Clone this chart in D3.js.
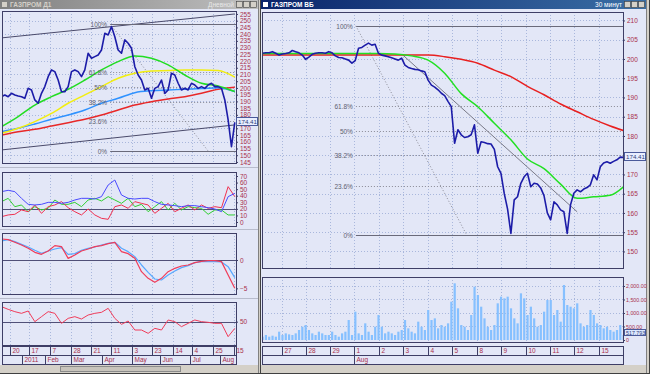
<!DOCTYPE html>
<html>
<head>
<meta charset="utf-8">
<script src="https://cdnjs.cloudflare.com/ajax/libs/d3/7.8.5/d3.min.js"></script>
<style>
  body { margin: 0; background: #d4d0c8; }
  svg { display: block; }
  text { font-family: "Liberation Sans", Arial, sans-serif; }
</style>
</head>
<body>
<div id="chart"></div>
<script>
// ---- left window: daily chart (one sample every ~2.5 sessions) ----
const leftPrice = [
  193.5, 194.8, 193.5, 196.0, 194.8, 194.0, 193.5, 192.3, 199.7, 198.5,
  191.1, 188.6, 196.0, 201.0, 208.4, 213.4, 212.1, 205.9, 197.2, 197.2,
  201.0, 212.1, 213.4, 212.1, 208.4, 213.4, 225.8, 222.1, 223.3, 224.5,
  228.2, 240.6, 239.4, 245.6, 238.1, 228.2, 225.8, 235.7, 233.2, 229.5,
  215.8, 209.6, 205.9, 198.5, 199.7, 192.3, 199.7, 201.0, 205.9, 196.0,
  198.5, 210.9, 209.6, 203.5, 198.5, 199.7, 198.5, 203.5, 202.2, 199.7,
  201.0, 199.7, 202.2, 203.5, 201.0, 201.0, 199.7, 191.1, 176.2, 156.3,
  174.4
]
// moving averages, sampled every 5 samples
const leftMaIdx = [0, 5, 10, 15, 20, 25, 30, 35, 40, 45, 50, 55, 60, 65, 70]
const leftGreenMa = [171.2, 178.7, 187.3, 193.5, 199.0, 205.9, 213.4, 219.6, 223.8, 222.0, 217.1, 209.6, 203.5, 201.5, 197.3]
const leftYellowMa = [166.3, 170.0, 175.0, 181.1, 188.6, 194.8, 201.0, 207.2, 210.9, 212.6, 212.9, 213.4, 213.4, 212.9, 208.0]
const leftBlueMa = [167.5, 170.0, 173.2, 176.7, 179.9, 183.6, 188.6, 192.3, 196.5, 198.0, 198.5, 199.0, 199.5, 200.2, 197.3]
const leftRedMa = [165.0, 167.5, 169.3, 171.7, 174.2, 176.7, 179.9, 183.6, 187.3, 189.8, 191.8, 193.5, 196.0, 199.0, 200.5]

// indicators, sampled every 2 samples
const dmiBlue = [46.2, 48.2, 46.2, 36.0, 26.9, 25.9, 26.9, 29.9, 29.9, 28.4, 29.9, 33.5, 36.0, 36.0, 35.0, 38.6, 56.3, 63.9, 41.1, 36.0, 35.0, 36.0, 36.0, 31.0, 26.9, 25.9, 24.9, 23.3, 24.9, 24.9, 23.3, 21.8, 19.8, 15.7, 38.6, 43.6]
const dmiGreen = [31.0, 36.0, 23.3, 25.9, 15.7, 23.3, 18.3, 20.8, 33.5, 26.9, 26.9, 29.9, 23.3, 33.5, 36.0, 32.0, 38.6, 33.5, 28.4, 36.0, 23.3, 26.9, 15.7, 23.3, 31.0, 18.3, 28.4, 18.3, 23.3, 21.8, 20.8, 11.7, 18.3, 18.3, 10.7, 10.7]
const dmiRed = [8.1, 10.7, 11.7, 18.3, 15.7, 25.9, 13.2, 23.3, 25.9, 31.0, 21.8, 15.7, 10.7, 19.8, 10.7, 5.6, 4.1, 23.3, 25.9, 20.8, 31.0, 28.4, 25.9, 13.2, 20.8, 28.4, 15.7, 20.8, 25.9, 18.3, 25.9, 20.8, 23.3, 21.8, 53.8, 38.6]
const macdRed = [3.71, 3.59, 3.12, 2.65, 2.06, 1.35, 1.0, 1.59, 2.53, 2.35, 0.29, 0.88, 1.59, 1.94, 2.35, 2.53, 2.88, 3.12, 1.47, 1.12, 0.29, -2.06, -3.24, -3.94, -3.24, -2.06, -1.47, -1.06, -0.88, -0.47, -0.24, -0.12, -0.12, -0.29, -2.65, -5.0]
const macdBlue = [3.35, 3.59, 3.24, 2.76, 2.29, 1.71, 1.18, 1.59, 1.94, 2.18, 1.0, 1.12, 1.71, 2.06, 2.29, 2.65, 2.94, 3.12, 2.06, 1.47, 0.59, -0.88, -2.18, -3.35, -3.53, -2.65, -1.94, -1.35, -1.0, -0.47, -0.29, -0.29, -0.29, -0.35, -1.18, -3.12]
const rsiRed = [72.5, 68.5, 65, 62.5, 66, 50, 57.5, 65, 62.5, 47.5, 55, 57.5, 54, 60, 62.5, 64, 70, 55, 46, 51, 37.5, 37.5, 32.5, 40, 37.5, 52.5, 50, 42.5, 47.5, 52.5, 50, 49, 47.5, 47.5, 27.5, 40]

const leftDays = ["20", "17", "7", "28", "21", "11", "3", "23", "14", "4", "25", "15"]
const leftDayIdx = [2.55, 8.25, 14.55, 20.85, 26.85, 32.85, 39.15, 45.15, 51.45, 57.15, 63.45, 69.75]
const leftMonths = ["2011", "Feb", "Mar", "Apr", "May", "Jun", "Jul", "Aug"]
const leftMonthIdx = [6.15, 13.05, 20.85, 30.15, 39.15, 47.55, 56.55, 65.55]
const leftFib = { hi: 247.6, lo: 153.1, from: 32.6, diagTo: 62.0 }
const leftChannel = [[0, 237.2, 70, 255.0], [0, 153.9, 70, 172.5]]

// ---- right window: 30-minute chart (one sample every ~2.5 bars) ----
const rightPrice = [
  201.5, 201.6, 201.6, 201.9, 201.5, 201.0, 201.3, 201.4, 201.6, 202.2,
  201.9, 201.6, 201.0, 199.9, 200.5, 201.2, 201.5, 201.6, 201.6, 201.5,
  201.9, 201.6, 200.8, 200.4, 200.3, 200.0, 199.7, 198.9, 199.6, 202.8,
  203.0, 203.6, 204.1, 203.6, 203.8, 201.5, 201.0, 200.8, 200.6, 200.3,
  200.0, 199.7, 200.2, 198.4, 197.8, 197.5, 197.3, 197.2, 196.9, 196.7,
  194.5, 193.2, 192.7, 192.0, 191.1, 190.5, 189.0, 187.6, 178.1, 181.6,
  180.3, 179.6, 179.8, 180.3, 182.9, 175.5, 178.5, 178.3, 178.0, 177.9,
  176.5, 172.0, 170.3, 165.0, 161.0, 154.7, 163.4, 164.2, 167.7, 169.4,
  170.3, 166.8, 167.7, 167.5, 166.5, 164.5, 160.0, 158.2, 162.9, 162.1,
  160.8, 160.3, 154.7, 162.1, 165.1, 166.0, 165.5, 166.2, 166.6, 167.3,
  169.9, 168.6, 172.0, 173.0, 173.3, 172.9, 173.4, 173.8, 174.5, 174.41
]
const rightVolume = [
  123, 185, 123, 160, 123, 308, 185, 246, 209, 185,
  246, 370, 493, 555, 370, 246, 185, 308, 246, 185,
  185, 308, 185, 123, 246, 308, 740, 185, 1049, 246,
  185, 617, 308, 185, 493, 926, 493, 246, 308, 246,
  185, 308, 370, 740, 432, 308, 246, 679, 493, 370,
  1111, 740, 802, 432, 555, 493, 617, 1420, 2099, 1173,
  555, 493, 370, 926, 1975, 1667, 1234, 802, 493, 370,
  555, 1358, 1605, 1543, 1605, 1173, 802, 617, 1728, 1543,
  926, 1234, 802, 493, 555, 1049, 1481, 1481, 926, 1111,
  679, 2037, 1296, 1234, 1173, 1358, 617, 493, 555, 1111,
  926, 617, 555, 432, 493, 370, 308, 370, 555, 185
]
const rightMaIdx = [0, 5, 10, 15, 20, 25, 30, 35, 40, 45, 50, 55, 60, 65, 70, 75, 80, 85, 90, 95, 100, 105, 109]
const rightGreenMa = [201.4, 201.4, 201.4, 201.4, 201.4, 201.4, 201.4, 201.4, 201.3, 200.8, 199.7, 196.3, 191.0, 187.6, 183.3, 179.0, 174.0, 171.5, 167.5, 163.8, 164.2, 164.6, 166.8]
const rightRedMa = [201.0, 201.0, 201.0, 201.0, 201.0, 201.0, 201.0, 201.0, 201.0, 201.0, 201.0, 200.6, 199.9, 198.9, 197.1, 195.4, 192.9, 190.7, 188.3, 186.3, 184.3, 182.6, 181.4]
const rightDays = ["27", "28", "29", "1", "2", "3", "4", "5", "8", "9", "10", "11", "12", "15"]
const rightDayIdx = [5.9, 13.1, 20.4, 27.6, 35.2, 42.4, 50.0, 57.2, 64.7, 72.0, 79.5, 86.7, 94.0, 101.6]
const rightMonths = ["Aug"]
const rightMonthIdx = [27.6]
const rightFib = { hi: 208.6, lo: 154.2, from: 28.2, diagTo: 61.7 }
const rightTrend = [42.4, 201.0, 95.0, 160.3]

const fibLevels = [0, 0.236, 0.382, 0.5, 0.618, 1]
const fibLabels = ["0%", "23.6%", "38.2%", "50%", "61.8%", "100%"]
const lastPrice = 174.41
const lastVolume = 517.793

// ---- styles ----
const bg = "#e3e7f7"
const frame = "#3e3e66"
const labelColor = "#a8304c"
const gridColor = "#a9b7dc"
const priceColor = "#1c1ca8"

const svg = d3.select("#chart").append("svg").attr("width", 650).attr("height", 374)
const defs = svg.append("defs")

function gradient(id, c0, c1) {
  const g = defs.append("linearGradient").attr("id", id)
  g.append("stop").attr("offset", "0%").attr("stop-color", c0)
  g.append("stop").attr("offset", "100%").attr("stop-color", c1)
}
gradient("tInactive", "#808080", "#c0c0c0")
gradient("tActive", "#0a246a", "#3a6ea5")

function clip(id, x0, y0, x1, y1) {
  defs.append("clipPath").attr("id", id)
    .append("rect").attr("x", x0).attr("y", y0).attr("width", x1 - x0).attr("height", y1 - y0)
  return "url(#" + id + ")"
}

function box(x0, y0, x1, y1, fill) {
  svg.append("rect")
    .attr("x", x0 + 0.5).attr("y", y0 + 0.5)
    .attr("width", x1 - x0).attr("height", y1 - y0)
    .attr("fill", fill || "none").attr("stroke", frame)
}

function hline(g, x0, x1, y, color, dash, w) {
  g.append("line")
    .attr("x1", x0).attr("x2", x1).attr("y1", y).attr("y2", y)
    .attr("stroke", color).attr("stroke-width", w || 1)
    .attr("stroke-dasharray", dash || null)
}

function vGrid(g, xs, idx, y0, y1) {
  idx.forEach(d => {
    const x = Math.round(xs(d)) + 0.5
    g.append("line").attr("x1", x).attr("x2", x).attr("y1", y0).attr("y2", y1)
      .attr("stroke", gridColor).attr("stroke-dasharray", "1,2")
  })
}

function vAxis(scale, x, values, fmt, size) {
  const ax = d3.axisRight(scale).tickValues(values).tickSize(2).tickPadding(size ? 1 : 2)
    .tickFormat(fmt || d3.format("d"))
  const g = svg.append("g").attr("transform", "translate(" + x + ",0)").call(ax)
  g.select(".domain").remove()
  g.attr("font-size", size || 6.5).attr("font-family", "Liberation Sans, Arial, sans-serif")
  g.selectAll("text").attr("fill", labelColor)
  g.selectAll("line").attr("stroke", frame)
  return g
}

function series(g, xs, ys, vals, color, w) {
  const line = d3.line().x((d, i) => xs(i)).y(d => ys(d))
  g.append("path").datum(vals)
    .attr("d", line).attr("fill", "none")
    .attr("stroke", color).attr("stroke-width", w || 1)
    .attr("stroke-linejoin", "round")
}

function curve(g, xs, ys, vals, idx, color, w) {
  const line = d3.line().curve(d3.curveMonotoneX)
    .x((d, i) => xs(idx[i])).y(d => ys(d))
  g.append("path").datum(vals)
    .attr("d", line).attr("fill", "none")
    .attr("stroke", color).attr("stroke-width", w || 1.5)
}

function dateRows(xs, x0, x1, y, days, dayIdx, months, monthIdx) {
  box(x0, y, x1, y + 9)
  box(x0, y + 9, x1, y + 18)
  dayIdx.forEach((d, i) => {
    const x = Math.round(xs(d)) + 0.5
    svg.append("line").attr("x1", x).attr("x2", x).attr("y1", y).attr("y2", y + 9).attr("stroke", frame)
    svg.append("text").attr("x", x + 2).attr("y", y + 7)
      .attr("font-size", 6.5).attr("fill", labelColor).text(days[i])
  })
  monthIdx.forEach((d, i) => {
    const x = Math.round(xs(d)) + 0.5
    svg.append("line").attr("x1", x).attr("x2", x).attr("y1", y + 9).attr("y2", y + 18).attr("stroke", frame)
    svg.append("text").attr("x", x + 2).attr("y", y + 16)
      .attr("font-size", 6.5).attr("fill", labelColor).text(months[i])
  })
}

function fib(g, xs, ys, f, xEnd) {
  fibLevels.forEach((lv, i) => {
    const v = f.lo + (f.hi - f.lo) * lv
    const y = Math.round(ys(v)) + 0.5
    const solid = lv === 0 || lv === 1
    hline(g, xs(f.from), xEnd, y, solid ? "#6a6a7a" : "#8a8a96", solid ? null : "1,2")
    svg.append("text").attr("x", xs(f.from) - 3).attr("y", y + 2)
      .attr("text-anchor", "end").attr("font-size", 6.5).attr("fill", "#606070")
      .text(fibLabels[i])
  })
  g.append("line")
    .attr("x1", xs(f.from)).attr("y1", ys(f.hi))
    .attr("x2", xs(f.diagTo)).attr("y2", ys(f.lo))
    .attr("stroke", "#8a8a96").attr("stroke-dasharray", "1,2")
}

function valueTag(x, y, txt, fill, h, size) {
  h = h || 8
  svg.append("rect").attr("x", x + 0.5).attr("y", y - h / 2 - 0.5).attr("width", 21).attr("height", h)
    .attr("fill", fill).attr("stroke", "#4a5a9a")
  svg.append("text").attr("x", x + 2).attr("y", y + 2)
    .attr("font-size", size || 6.2).attr("fill", "#30407a").text(txt)
}

// tick values that are not hidden under the last-value tag
function freeTicks(vals, scale, v) {
  return vals.filter(t => Math.abs(scale(t) - scale(v)) > 5)
}

// ---- window chrome ----
svg.append("rect").attr("width", 650).attr("height", 374).attr("fill", "#d4d0c8")
svg.append("rect").attr("x", 0).attr("y", 9).attr("width", 258).attr("height", 356).attr("fill", bg)
svg.append("rect").attr("x", 261).attr("y", 9).attr("width", 385).attr("height", 356).attr("fill", bg)
svg.append("line").attr("x1", 258.5).attr("x2", 258.5).attr("y1", 0).attr("y2", 374).attr("stroke", "#808080")
svg.append("line").attr("x1", 260.5).attr("x2", 260.5).attr("y1", 0).attr("y2", 374).attr("stroke", "#404040")
svg.append("line").attr("x1", 646.5).attr("x2", 646.5).attr("y1", 0).attr("y2", 374).attr("stroke", "#808080")
svg.append("line").attr("x1", 649.5).attr("x2", 649.5).attr("y1", 0).attr("y2", 374).attr("stroke", "#404040")
svg.append("line").attr("x1", 0).attr("x2", 650).attr("y1", 373.5).attr("y2", 373.5).attr("stroke", "#404040")

// title bars
svg.append("rect").attr("x", 0).attr("y", 0).attr("width", 258).attr("height", 9).attr("fill", "url(#tInactive)")
svg.append("rect").attr("x", 2).attr("y", 2).attr("width", 5).attr("height", 5).attr("fill", "#d4d0c8")
svg.append("text").attr("x", 10).attr("y", 7).attr("font-size", 6.5).attr("font-weight", "bold")
  .attr("fill", "#d4d0c8").text("ГАЗПРОМ Д1")
svg.append("text").attr("x", 234).attr("y", 7).attr("font-size", 6.5).attr("text-anchor", "end")
  .attr("fill", "#e8e8e8").text("Дневной")
svg.append("rect").attr("x", 261).attr("y", 0).attr("width", 385).attr("height", 9).attr("fill", "url(#tActive)")
svg.append("rect").attr("x", 263).attr("y", 2).attr("width", 5).attr("height", 5).attr("fill", "#ffffff")
svg.append("text").attr("x", 271).attr("y", 7).attr("font-size", 6.5).attr("font-weight", "bold")
  .attr("fill", "#ffffff").text("ГАЗПРОМ ВБ")
svg.append("text").attr("x", 622).attr("y", 7).attr("font-size", 6.5).attr("text-anchor", "end")
  .attr("fill", "#ffffff").text("30 минут")
;[236, 243, 250, 624, 631, 638].forEach(x => {
  svg.append("rect").attr("x", x + 0.5).attr("y", 1.5).attr("width", 6).attr("height", 6)
    .attr("fill", "#d4d0c8").attr("stroke", "#404040").attr("stroke-width", 0.6)
})

// scroll bars
svg.append("rect").attr("x", 0).attr("y", 365).attr("width", 258).attr("height", 8).attr("fill", "#d4d0c8")
svg.append("rect").attr("x", 261).attr("y", 365).attr("width", 385).attr("height", 8).attr("fill", "#d4d0c8")
svg.append("rect").attr("x", 60.5).attr("y", 366.5).attr("width", 120).attr("height", 5).attr("fill", "#c8c4bc").attr("stroke", "#8a8a8a")

// ---- left price panel ----
const xL = d3.scaleLinear().domain([0, 70]).range([1.5, 234.8])
const yL = d3.scaleLinear().domain([144.2, 257.2]).range([163, 11])
const gL = svg.append("g").attr("clip-path", clip("cL", 2, 11, 236, 163))

vGrid(gL, xL, leftDayIdx, 11, 163)
d3.range(150, 256, 10).forEach(v => hline(gL, 2, 236, Math.round(yL(v)) + 0.5, gridColor, "1,2"))
leftChannel.forEach(c => {
  gL.append("line").attr("x1", xL(c[0])).attr("y1", yL(c[1])).attr("x2", xL(c[2])).attr("y2", yL(c[3]))
    .attr("stroke", "#4a4a6a")
})
fib(gL, xL, yL, leftFib, 236)

curve(gL, xL, yL, leftRedMa, leftMaIdx, "#e82828")
curve(gL, xL, yL, leftBlueMa, leftMaIdx, "#2f92ff")
curve(gL, xL, yL, leftYellowMa, leftMaIdx, "#f2ee10")
curve(gL, xL, yL, leftGreenMa, leftMaIdx, "#22dd22")
series(gL, xL, yL, leftPrice, priceColor, 1.6)
box(2, 11, 236, 163)
vAxis(yL, 236, freeTicks(d3.range(145, 256, 5), yL, lastPrice))
valueTag(236, Math.round(yL(lastPrice)), lastPrice.toFixed(2), "#e8eeff")

// ---- left indicator panels ----
const xI = d3.scaleLinear().domain([0, 35]).range([1.5, 234.8])
hline(svg, 0, 258, 167.5, "#b8bccc")
hline(svg, 0, 258, 229.5, "#b8bccc")
hline(svg, 0, 258, 298.5, "#b8bccc")

const y1 = d3.scaleLinear().domain([-6.1, 76.1]).range([226, 172])
const g1 = svg.append("g").attr("clip-path", clip("c1", 2, 172, 236, 226))
vGrid(g1, xL, leftDayIdx, 172, 226)
hline(g1, 2, 236, Math.round(y1(20)) + 0.5, "#505078")
series(g1, xI, y1, dmiGreen, "#30d030", 1)
series(g1, xI, y1, dmiRed, "#f03050", 1)
series(g1, xI, y1, dmiBlue, "#4a4aff", 1)
box(2, 172, 236, 226)
vAxis(y1, 236, d3.range(0, 71, 10))

const y2 = d3.scaleLinear().domain([-6.0, 4.76]).range([294, 233])
const g2 = svg.append("g").attr("clip-path", clip("c2", 2, 233, 236, 294))
vGrid(g2, xL, leftDayIdx, 233, 294)
hline(g2, 2, 236, Math.round(y2(0)) + 0.5, "#505078")
series(g2, xI, y2, macdBlue, "#58a8ff", 1.2)
series(g2, xI, y2, macdRed, "#f03c5a", 1.2)
box(2, 233, 236, 294)
vAxis(y2, 236, [0, -5])

const y3 = d3.scaleLinear().domain([15, 79.5]).range([345, 302])
const g3 = svg.append("g").attr("clip-path", clip("c3", 2, 302, 236, 345))
vGrid(g3, xL, leftDayIdx, 302, 345)
hline(g3, 2, 236, Math.round(y3(50)) + 0.5, "#505078")
series(g3, xI, y3, rsiRed, "#f03c5a", 1)
box(2, 302, 236, 345)
vAxis(y3, 236, [50])

dateRows(xL, 2, 236, 346, leftDays, leftDayIdx, leftMonths, leftMonthIdx)

// ---- right price panel ----
const xR = d3.scaleLinear().domain([0, 109]).range([262.5, 623.5])
const yR = d3.scaleLinear().domain([145.7, 212.2]).range([268, 12])
const gR = svg.append("g").attr("clip-path", clip("cR", 262, 12, 623, 268))

vGrid(gR, xR, rightDayIdx, 12, 268)
d3.range(150, 211, 5).forEach(v => hline(gR, 262, 623, Math.round(yR(v)) + 0.5, gridColor, "1,2"))
fib(gR, xR, yR, rightFib, 623)
gR.append("line")
  .attr("x1", xR(rightTrend[0])).attr("y1", yR(rightTrend[1]))
  .attr("x2", xR(rightTrend[2])).attr("y2", yR(rightTrend[3]))
  .attr("stroke", "#7a7a88")
curve(gR, xR, yR, rightRedMa, rightMaIdx, "#e82020", 1.5)
curve(gR, xR, yR, rightGreenMa, rightMaIdx, "#22e022", 1.5)
series(gR, xR, yR, rightPrice, priceColor, 1.6)
box(262, 12, 623, 268)
vAxis(yR, 623, freeTicks(d3.range(150, 211, 5), yR, lastPrice))
valueTag(624, Math.round(yR(lastPrice)), lastPrice.toFixed(2), "#e8eeff")

// ---- right volume panel ----
const yV = d3.scaleLinear().domain([-74, 2333]).range([342, 277])
const gV = svg.append("g").attr("clip-path", clip("cV", 262, 277, 623, 342))
vGrid(gV, xR, rightDayIdx, 277, 342)
d3.range(500, 2001, 500).forEach(v => hline(gV, 262, 623, Math.round(yV(v)) + 0.5, gridColor, "1,2"))
gV.selectAll("rect.vol").data(rightVolume).enter().append("rect")
  .attr("class", "vol")
  .attr("x", (d, i) => xR(i) - 1)
  .attr("width", 2.2)
  .attr("y", d => yV(d))
  .attr("height", d => yV(0) - yV(d))
  .attr("fill", "#86c0ff")
box(262, 277, 623, 342)
vAxis(yV, 623, [0, 500, 1000, 1500, 2000], v => v === 0 ? "0" : d3.format(",.2f")(v), 5.3)
// tag sits between the 500 and 0 labels, as in the terminal
valueTag(624, Math.round(yV(lastVolume)) + 7, lastVolume.toFixed(3), "#dce8ff", 6, 5.3)

dateRows(xR, 262, 623, 346, rightDays, rightDayIdx, rightMonths, rightMonthIdx)
</script>
</body>
</html>
